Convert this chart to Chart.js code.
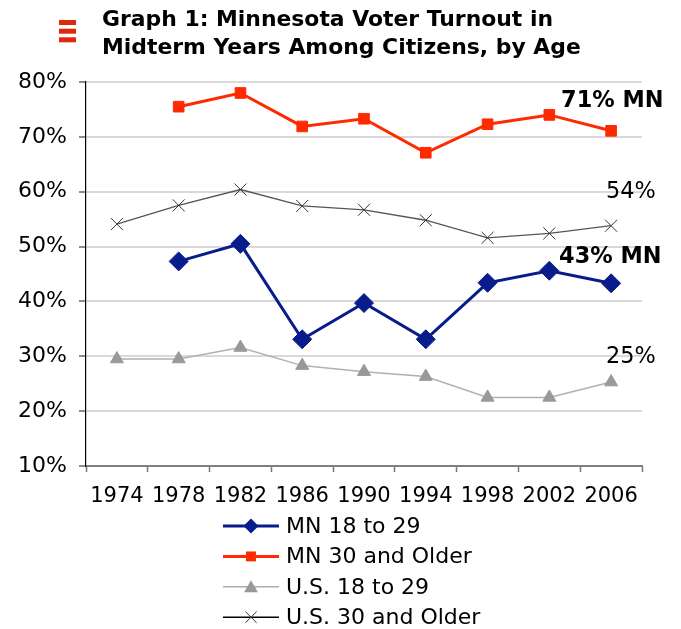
<!DOCTYPE html>
<html>
<head>
<meta charset="utf-8">
<script src="https://cdn.jsdelivr.net/npm/chart.js"></script>
<style>
  html, body { margin: 0; padding: 0; background: #ffffff; }
  #wrap { width: 681px; height: 629px; }
</style>
</head>
<body>
<div id="wrap"><canvas id="c" width="681" height="629"></canvas></div>
<script>
// ---- Data ----
const years = ['1974', '1978', '1982', '1986', '1990', '1994', '1998', '2002', '2006'];
const mn18to29 = [null, 47.3, 50.5, 33.1, 39.7, 33.1, 43.4, 45.6, 43.3];
const mn30plus = [null, 75.5, 78.0, 71.9, 73.3, 67.1, 72.3, 74.0, 71.1];
const us18to29 = [29.5, 29.5, 31.6, 28.3, 27.2, 26.3, 22.5, 22.5, 25.3];
const us30plus = [54.1, 57.5, 60.4, 57.4, 56.7, 54.8, 51.6, 52.4, 53.8];
const seriesNames = ['MN 18 to 29', 'MN 30 and Older', 'U.S. 18 to 29', 'U.S. 30 and Older'];
const yTicks = [10, 20, 30, 40, 50, 60, 70, 80];
const titleLines = ['Graph 1: Minnesota Voter Turnout in', 'Midterm Years Among Citizens, by Age'];
const endLabels = ['43% MN', '71% MN', '25%', '54%'];

const FONT = '"DejaVu Sans", Verdana, sans-serif';

const styles = [
  { color: '#081c8c', width: 3, point: 'rectRot', radius: 9.5, pColor: '#081c8c', pBorder: 1, lRadius: 7.5 },
  { color: '#ff2a00', width: 3, point: 'rect', radius: 7.5, pColor: '#ff2a00', pBorder: 1, lRadius: 7 },
  { color: '#b0b0b0', width: 1.5, point: 'triangle', radius: 7.5, pColor: '#999999', pBorder: 1, lRadius: 8 },
  { color: '#555555', width: 1.3, point: 'crossRot', radius: 8.5, pColor: '#333333', pBorder: 1, lRadius: 8 }
];
const seriesData = [mn18to29, mn30plus, us18to29, us30plus];

const datasets = seriesData.map((d, i) => ({
  label: seriesNames[i],
  data: d,
  borderColor: styles[i].color,
  borderWidth: styles[i].width,
  backgroundColor: styles[i].pColor,
  pointStyle: styles[i].point,
  pointRadius: styles[i].radius,
  pointHoverRadius: styles[i].radius,
  pointBackgroundColor: styles[i].pColor,
  pointBorderColor: styles[i].pColor,
  pointBorderWidth: styles[i].pBorder,
  tension: 0,
  fill: false,
  spanGaps: false
}));

// Title + icon plugin
const titlePlugin = {
  id: 'titlePlugin',
  afterDraw(chart) {
    const ctx = chart.ctx;
    ctx.save();
    ctx.fillStyle = '#dd2a0c';
    [20, 28.7, 37.3].forEach(y => ctx.fillRect(59, y, 17, 5));
    ctx.fillStyle = '#000000';
    ctx.font = 'bold 21.9px ' + FONT;
    ctx.textBaseline = 'middle';
    ctx.textAlign = 'left';
    titleLines.forEach((t, i) => ctx.fillText(t, 102, 20.5 + i * 28));
    ctx.restore();
  }
};

// End-of-series value labels
const endLabelPlugin = {
  id: 'endLabels',
  afterDatasetsDraw(chart) {
    const ctx = chart.ctx;
    const xs = chart.scales.x, ys = chart.scales.y;
    const last = years.length - 1;
    const cfg = [
      { bold: true, dx: -52, dy: -26 },
      { bold: true, dx: -50, dy: -29.5 },
      { bold: false, dx: -5, dy: -25 },
      { bold: false, dx: -5, dy: -34 }
    ];
    ctx.save();
    ctx.fillStyle = '#000000';
    ctx.textBaseline = 'middle';
    ctx.textAlign = 'left';
    seriesData.forEach((d, i) => {
      const x = xs.getPixelForValue(last) + cfg[i].dx;
      const y = ys.getPixelForValue(d[last]) + cfg[i].dy;
      ctx.font = (cfg[i].bold ? 'bold ' : '') + '22.4px ' + FONT;
      ctx.fillText(endLabels[i], x, y);
    });
    ctx.restore();
  }
};

function drawMarker(ctx, style, r, x, y, fill) {
  ctx.save();
  ctx.fillStyle = fill;
  ctx.strokeStyle = fill;
  ctx.lineWidth = 1;
  ctx.beginPath();
  if (style === 'rectRot') {
    ctx.moveTo(x - r, y); ctx.lineTo(x, y - r); ctx.lineTo(x + r, y); ctx.lineTo(x, y + r); ctx.closePath();
    ctx.fill();
  } else if (style === 'rect') {
    const s = r * Math.SQRT1_2;
    ctx.rect(x - s, y - s, 2 * s, 2 * s);
    ctx.fill();
  } else if (style === 'triangle') {
    ctx.moveTo(x, y - r);
    ctx.lineTo(x + r * 0.866, y + r * 0.5);
    ctx.lineTo(x - r * 0.866, y + r * 0.5);
    ctx.closePath();
    ctx.fill();
  } else if (style === 'crossRot') {
    const o = r * Math.SQRT1_2;
    ctx.moveTo(x - o, y - o); ctx.lineTo(x + o, y + o);
    ctx.moveTo(x + o, y - o); ctx.lineTo(x - o, y + o);
    ctx.stroke();
  }
  ctx.restore();
}

// Vertical legend below the plot
const legendPlugin = {
  id: 'vLegend',
  afterDraw(chart) {
    const ctx = chart.ctx;
    const top = chart.chartArea.bottom + 60;
    const x0 = 223, x1 = 279, xm = 251, xt = 286, step = 30.4;
    ctx.save();
    seriesNames.forEach((name, i) => {
      const y = top + i * step;
      ctx.strokeStyle = i === 2 ? '#b8a8a8' : (i === 3 ? '#000000' : styles[i].color);
      ctx.lineWidth = i < 2 ? 3 : 1.5;
      ctx.beginPath(); ctx.moveTo(x0, y); ctx.lineTo(x1, y); ctx.stroke();
      drawMarker(ctx, styles[i].point, styles[i].lRadius, xm, y + (i === 2 ? 1.5 : 0), styles[i].pColor);
      ctx.fillStyle = '#000000';
      ctx.font = '22px ' + FONT;
      ctx.textBaseline = 'middle';
      ctx.textAlign = 'left';
      ctx.fillText(name, xt, y + 1);
    });
    ctx.restore();
  }
};

new Chart(document.getElementById('c'), {
  type: 'line',
  data: { labels: years, datasets },
  plugins: [titlePlugin, endLabelPlugin, legendPlugin],
  options: {
    responsive: false,
    animation: false,
    events: [],
    layout: { padding: { top: 82, right: 39, bottom: 123, left: 0 } },
    plugins: {
      legend: { display: false },
      title: { display: false },
      tooltip: { enabled: false }
    },
    scales: {
      x: {
        type: 'category',
        offset: true,
        grid: {
          offset: true,
          drawOnChartArea: false,
          drawTicks: true,
          tickLength: 6,
          tickColor: '#777777',
          tickWidth: 1.5
        },
        border: { color: '#808080', width: 2 },
        ticks: {
          color: '#000000',
          font: { family: FONT, size: 21 },
          padding: 12,
          maxRotation: 0,
          autoSkip: false
        },
        afterFit: s => { s.height = 40; }
      },
      y: {
        min: 10,
        max: 80,
        afterBuildTicks: s => { s.ticks = yTicks.map(v => ({ value: v })); },
        grid: {
          color: '#d9d9d9',
          lineWidth: 2,
          drawTicks: true,
          tickLength: 7,
          tickColor: '#666666',
          tickWidth: 1.5
        },
        border: { color: '#000000', width: 1.2 },
        ticks: {
          color: '#000000',
          font: { family: FONT, size: 22 },
          padding: 12,
          callback: v => v + '%'
        },
        afterFit: s => { s.width = 86; }
      }
    }
  }
});
</script>
</body>
</html>
